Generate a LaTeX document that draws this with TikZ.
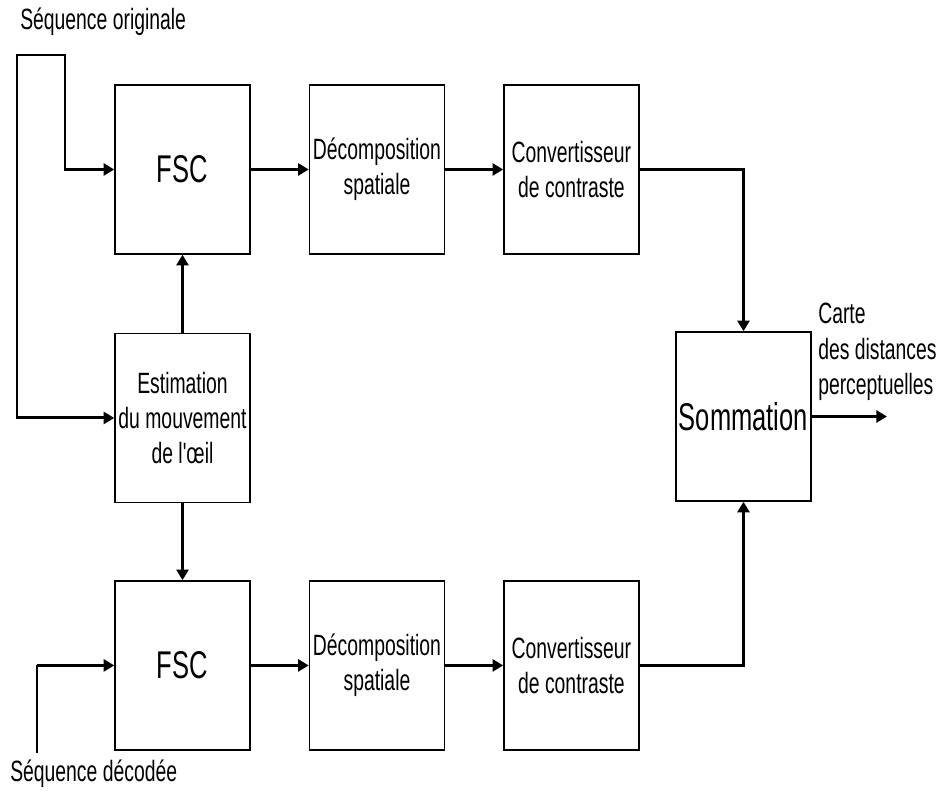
\documentclass[tikz,border=0pt]{standalone}
\usepackage{fontspec}
\usepackage{tikz}
\usetikzlibrary{positioning,arrows.meta}
\newfontfamily\schemafont{Liberation Sans}[FakeStretch=0.66]
\definecolor{schemaline}{HTML}{000000}

\begin{document}
\begin{tikzpicture}[x=0.75pt,y=-0.75pt,
  font=\schemafont\fontsize{22pt}{26.5pt}\selectfont,
  bloc/.style={draw=schemaline,line width=1.1pt,minimum width=101.25pt,minimum height=126.75pt,inner sep=0pt,align=center},
  grand/.style={font=\schemafont\fontsize{29pt}{32pt}\selectfont},
  flux/.style={line width=2.2pt,-{Triangle[length=8pt,width=9pt]}},
  fil/.style={line width=1.1pt},
  node distance=43.5pt]
\useasboundingbox (0,0) rectangle (940,791);
% chaine du haut
\node[bloc,grand] (fsc1) at (182.5,169.5) {FSC};
\node[bloc,right=of fsc1] (dec1) {Décomposition\\spatiale};
\node[bloc,right=of dec1] (conv1) {Convertisseur\\de contraste};
% estimation du mouvement
\node[bloc,below=58.5pt of fsc1] (est) {Estimation\\du mouvement\\de l'œil};
% chaine du bas
\node[bloc,grand,below=57.75pt of est] (fsc2) {FSC};
\node[bloc,right=of fsc2] (dec2) {Décomposition\\spatiale};
\node[bloc,right=of dec2] (conv2) {Convertisseur\\de contraste};
% sommation
\node[bloc,grand] (somme) at (743.5,416.5) {Sommation};
% entrees et sortie
\node[anchor=base west,inner sep=0pt] (lorig) at (20,30) {Séquence originale};
\node[anchor=base west,inner sep=0pt] (ldec) at (10,782) {Séquence décodée};
\node[anchor=north west,inner sep=0pt,align=left] (lcarte) at (818,303) {Carte\\des distances\\perceptuelles};
\coordinate (orig) at (17,55);
\coordinate (coin) at (65,55);
\coordinate (dec) at (37,753);
\coordinate (sortie) at (887,416.5);
\draw[flux] (orig) -- (coin) |- (fsc1.west);
\draw[flux] (coin) -- (orig) |- (est.west);
\draw[fil] (dec) -- (dec |- fsc2.west);
\draw[flux] (dec |- fsc2.west) -- (fsc2.west);
\draw[flux] (fsc1) -- (dec1);
\draw[flux] (dec1) -- (conv1);
\draw[flux] (fsc2) -- (dec2);
\draw[flux] (dec2) -- (conv2);
\draw[flux] (est) -- (fsc1);
\draw[flux] (est) -- (fsc2);
\draw[flux] (conv1.east) -| (somme.north);
\draw[flux] (conv2.east) -| (somme.south);
\draw[flux] (somme.east) -- (sortie);
\end{tikzpicture}
\end{document}
